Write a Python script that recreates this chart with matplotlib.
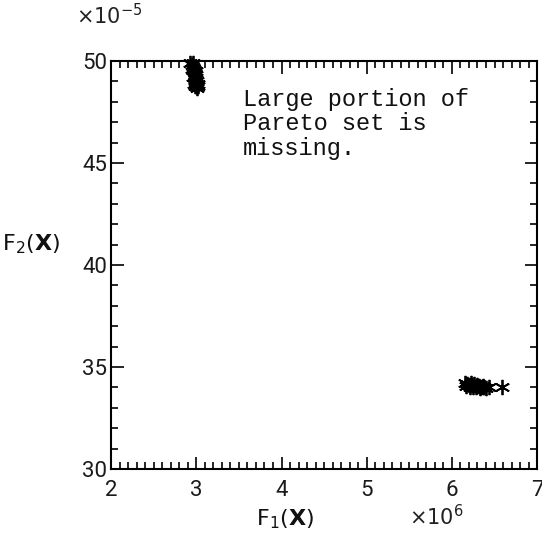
import matplotlib.pyplot as plt
from matplotlib.ticker import MultipleLocator

# F1 in units of 1e6, F2 in units of 1e-5
f1_a = [2.93, 2.95, 2.96, 2.97, 2.98, 2.99, 3.00, 2.95, 2.97, 2.98, 2.99, 3.00, 3.01,
        2.96, 2.98, 2.99, 3.00, 3.02, 2.97, 2.99, 3.00, 3.01, 3.02, 2.98, 3.00, 2.96]
f2_a = [49.9, 49.8, 49.7, 49.6, 49.5, 49.4, 49.3, 49.6, 49.5, 49.3, 49.2, 49.1, 49.0,
        49.2, 49.1, 49.0, 48.9, 48.9, 48.9, 48.8, 48.8, 48.7, 48.8, 49.4, 49.5, 49.9]
f1_b = [6.15, 6.18, 6.20, 6.22, 6.24, 6.26, 6.28, 6.30, 6.32, 6.34, 6.36, 6.38,
        6.17, 6.21, 6.25, 6.29, 6.33, 6.37, 6.40, 6.43, 6.59]
f2_b = [34.2, 34.15, 34.1, 34.2, 34.1, 34.15, 34.0, 34.1, 34.05, 34.0, 34.05, 34.0,
        34.05, 34.0, 34.0, 34.05, 33.95, 34.0, 33.95, 34.0, 34.0]

fig = plt.figure(figsize=(5.42, 5.36), dpi=100)
ax = fig.add_axes([0.205, 0.125, 0.786, 0.761])
ax.plot(f1_a, f2_a, ls='none', marker=(6, 2, 0), color='black', ms=11, mew=1.3, clip_on=False)
ax.plot(f1_b, f2_b, ls='none', marker=(6, 2, 0), color='black', ms=11, mew=1.3, clip_on=False)

ax.set_xlim(2, 7)
ax.set_ylim(30, 50)
ax.xaxis.set_major_locator(MultipleLocator(1))
ax.xaxis.set_minor_locator(MultipleLocator(0.1))
ax.yaxis.set_major_locator(MultipleLocator(5))
ax.yaxis.set_minor_locator(MultipleLocator(1))
ax.tick_params(which='both', direction='in', top=True, right=True, labelsize=16,
               width=1.2, colors='black', labelcolor='#1a1a1a')
ax.tick_params(which='major', length=9)
ax.tick_params(which='minor', length=5)
ax.tick_params(axis='x', pad=8)
ax.tick_params(axis='y', pad=3)
for lab in ax.get_xticklabels() + ax.get_yticklabels():
    lab.set_family('Roboto')
for s in ax.spines.values():
    s.set_linewidth(1.5)

fig.text(0.14, 0.955, r'$\times10^{-5}$', fontsize=15, color='#222222')
fig.text(0.755, 0.02, r'$\times10^{6}$', fontsize=15, color='#222222')
fig.text(0.525, 0.02, r'F$_1$($\mathbf{X}$)', fontsize=16, ha='center', color='#111111')
fig.text(0.003, 0.545, r'F$_2$($\mathbf{X}$)', fontsize=16, va='center', color='#111111')

ax.text(3.55, 48.7, 'Large portion of\nPareto set is\nmissing.', family='Liberation Mono',
        fontsize=17, va='top', linespacing=1.1, color='#111111')

fig.savefig('out.png', dpi=100)
